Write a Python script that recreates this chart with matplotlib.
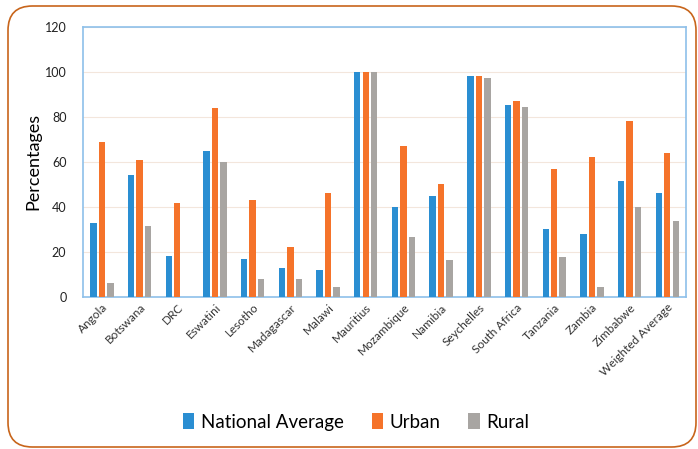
import numpy as np
import matplotlib
matplotlib.use('Agg')
import matplotlib.pyplot as plt
from matplotlib.patches import FancyBboxPatch

plt.rcParams['font.family'] = ['Lato', 'DejaVu Sans']

countries = ['Angola', 'Botswana', 'DRC', 'Eswatini', 'Lesotho', 'Madagascar',
             'Malawi', 'Mauritius', 'Mozambique', 'Namibia', 'Seychelles',
             'South Africa', 'Tanzania', 'Zambia', 'Zimbabwe', 'Weighted Average']
national = [33, 54, 18, 65, 17, 13, 12, 100, 40, 45, 98, 85.5, 30, 28, 51.5, 46]
urban = [69, 61, 41.5, 84, 43, 22, 46, 100, 67, 50, 98, 87, 57, 62, 78, 64]
rural = [6, 31.5, 0, 60, 8, 8, 4.5, 100, 26.5, 16.5, 97.5, 84.5, 17.5, 4.5, 40, 33.5]

c_nat = '#2A8ED2'
c_urb = '#F5732A'
c_rur = '#A8A5A2'

fig = plt.figure(figsize=(6.98, 4.49), dpi=100)
ax = fig.add_axes([0.119, 0.339, 0.864, 0.601])

x = np.arange(len(countries))
w = 0.17
off = 0.225
ax.bar(x - off, national, w, color=c_nat, label='National Average', zorder=3)
ax.bar(x, urban, w, color=c_urb, label='Urban', zorder=3)
ax.bar(x + off, rural, w, color=c_rur, label='Rural', zorder=3)

ax.set_xlim(-0.5, len(countries) - 0.5)
ax.set_ylim(0, 120)
ax.set_yticks(range(0, 121, 20))
ax.grid(axis='y', color='#F3E6DC', linewidth=0.8, zorder=0)
for s in ax.spines.values():
    s.set_color('#8EC0EA')
    s.set_linewidth(1.2)
ax.tick_params(length=0)
ax.tick_params(axis='y', labelsize=9, pad=12, labelcolor='#222222')
ax.set_xticks(x)
ax.set_xticklabels(countries, rotation=45, ha='right', rotation_mode='anchor',
                   fontsize=8.5, color='#333333')
ax.set_ylabel('Percentages', fontsize=13, labelpad=2)

fig.legend(loc='center', bbox_to_anchor=(0.51, 0.06), ncol=3, frameon=False,
           fontsize=13.5, handlelength=0.6, handleheight=0.9, handletextpad=0.35,
           columnspacing=1.5)

frame = FancyBboxPatch((8 / 698, 2 / 449), 688 / 698, 441 / 449,
                       boxstyle='round,pad=0,rounding_size=0.035',
                       transform=fig.transFigure, facecolor='none',
                       edgecolor='#C8651B', linewidth=1.2, mutation_aspect=698 / 449)
fig.patches.append(frame)

fig.savefig('out.png', dpi=100)
